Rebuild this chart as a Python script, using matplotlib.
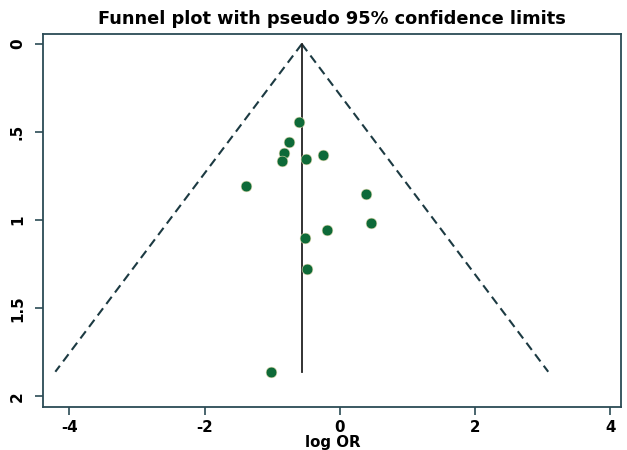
import numpy as np
import matplotlib
matplotlib.use("Agg")
import matplotlib.pyplot as plt

# Study effect sizes (log odds ratio) and their standard errors
log_or = [-0.61, -0.747, -0.825, -0.855, -0.506, -0.244, -1.393,
          0.388, 0.456, -0.195, -0.515, -0.485, -1.016]
se = [0.444, 0.555, 0.619, 0.661, 0.651, 0.627, 0.803,
      0.852, 1.018, 1.054, 1.098, 1.279, 1.859]

pooled = -0.562          # fixed-effect pooled log OR
se_max = 1.86            # largest standard error shown
z95 = 1.96

xticks = [-4, -2, 0, 2, 4]
yticks = [0, 0.5, 1, 1.5, 2]
ytick_labels = ["0", ".5", "1", "1.5", "2"]

frame_col = "#2b4b55"
dot_col = "#0e6a38"

plt.rcParams["font.family"] = ["DejaVu Sans"]
plt.rcParams["font.weight"] = "bold"

fig = plt.figure(figsize=(6.27, 4.5), dpi=100)
ax = fig.add_axes([43 / 627, 1 - 407 / 450, (621 - 43) / 627, (407 - 34) / 450])

# pseudo 95% confidence limits
se_line = np.array([0.0, se_max])
ax.plot(pooled - z95 * se_line, se_line, color="#1c3a42", lw=1.5,
        dashes=(4.3, 2.6))
ax.plot(pooled + z95 * se_line, se_line, color="#1c3a42", lw=1.5,
        dashes=(4.3, 2.6))
ax.plot([pooled, pooled], se_line, color="#222222", lw=1.3)

ax.scatter(log_or, se, s=60, color=dot_col, edgecolors="#e8dcb0",
           linewidths=0.4, zorder=3)

ax.set_xlim(-4.39, 4.16)
ax.set_ylim(2.06, -0.057)
ax.set_xticks(xticks)
ax.set_xticklabels([str(t) for t in xticks], fontsize=10.8, fontweight="bold")
ax.set_yticks(yticks)
ax.set_yticklabels(ytick_labels, fontsize=11, fontweight="bold",
                   rotation=90, va="center")

for sp in ax.spines.values():
    sp.set_color(frame_col)
    sp.set_linewidth(1.3)
ax.tick_params(axis="both", colors=frame_col, length=6, width=1.2,
               labelcolor="black")
ax.tick_params(axis="x", pad=3)
ax.tick_params(axis="y", pad=7)

# axis title sits tight under the tick labels
fig.text(333 / 627, 0 / 450, "log OR", fontsize=10.8, fontweight="bold",
         ha="center", va="bottom")
ax.set_title("Funnel plot with pseudo 95% confidence limits",
             fontsize=12.8, fontweight="bold", pad=7)

fig.savefig("out.png", dpi=100, facecolor="white")
